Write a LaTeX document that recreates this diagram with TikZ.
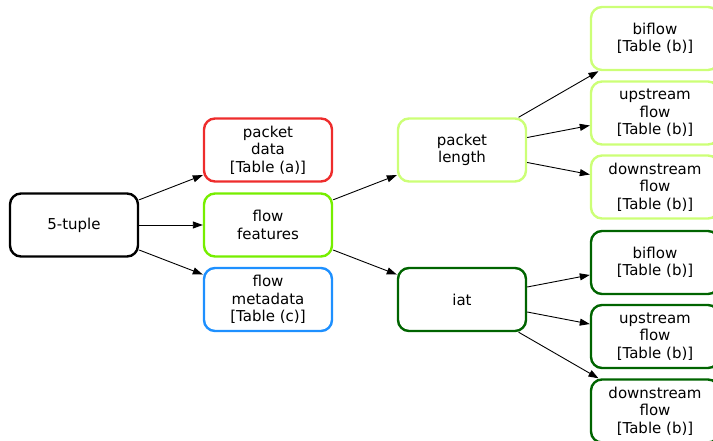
\documentclass[tikz,border=0pt]{standalone}
\usepackage{fontspec}
\setmainfont{DejaVu Sans}
\usetikzlibrary{arrows.meta}
\definecolor{cred}{HTML}{EE2C2C}
\definecolor{cgreen}{HTML}{76EE00}
\definecolor{cblue}{HTML}{1E90FF}
\definecolor{clight}{HTML}{CCFF77}
\definecolor{cdark}{HTML}{006400}
\begin{document}
\begin{tikzpicture}[x=1pt,y=-1pt,
  box/.style={draw, line width=2.4pt, rounded corners=11pt, minimum width=128pt, minimum height=63pt,
    align=center, inner sep=0pt, font=\fontsize{15}{17.5}\selectfont},
  conn/.style={draw, line width=0.9pt, -{Triangle[length=10pt,width=7pt]}}]
\useasboundingbox (0,0) rectangle (713,441);
\node[box] (tuple) at (74,225) {5-tuple};
\node[box, cred] (pdata) at (268,150) {\textcolor{black}{packet}\\\textcolor{black}{data}\\\textcolor{black}{[Table (a)]}};
\node[box, cgreen] (ffeat) at (268,225) {\textcolor{black}{flow}\\\textcolor{black}{features}};
\node[box, cblue] (fmeta) at (268,299.5) {\textcolor{black}{flow}\\\textcolor{black}{metadata}\\\textcolor{black}{[Table (c)]}};
\node[box, clight] (plen) at (462,150) {\textcolor{black}{packet}\\\textcolor{black}{length}};
\node[box, cdark] (iat) at (462,299.5) {\textcolor{black}{iat}};
\node[box, clight] (pbi) at (655,38.5) {\textcolor{black}{biflow}\\\textcolor{black}{[Table (b)]}};
\node[box, clight] (pup) at (655,113) {\textcolor{black}{upstream}\\\textcolor{black}{flow}\\\textcolor{black}{[Table (b)]}};
\node[box, clight] (pdown) at (655,187) {\textcolor{black}{downstream}\\\textcolor{black}{flow}\\\textcolor{black}{[Table (b)]}};
\node[box, cdark] (ibi) at (655,262.5) {\textcolor{black}{biflow}\\\textcolor{black}{[Table (b)]}};
\node[box, cdark] (iup) at (655,336.5) {\textcolor{black}{upstream}\\\textcolor{black}{flow}\\\textcolor{black}{[Table (b)]}};
\node[box, cdark] (idown) at (655,411) {\textcolor{black}{downstream}\\\textcolor{black}{flow}\\\textcolor{black}{[Table (b)]}};
\draw[conn] (tuple) -- (pdata);
\draw[conn] (tuple) -- (ffeat);
\draw[conn] (tuple) -- (fmeta);
\draw[conn] (ffeat) -- (plen);
\draw[conn] (ffeat) -- (iat);
\draw[conn] (plen) -- (pbi);
\draw[conn] (plen) -- (pup);
\draw[conn] (plen) -- (pdown);
\draw[conn] (iat) -- (ibi);
\draw[conn] (iat) -- (iup);
\draw[conn] (iat) -- (idown);
\end{tikzpicture}
\end{document}
